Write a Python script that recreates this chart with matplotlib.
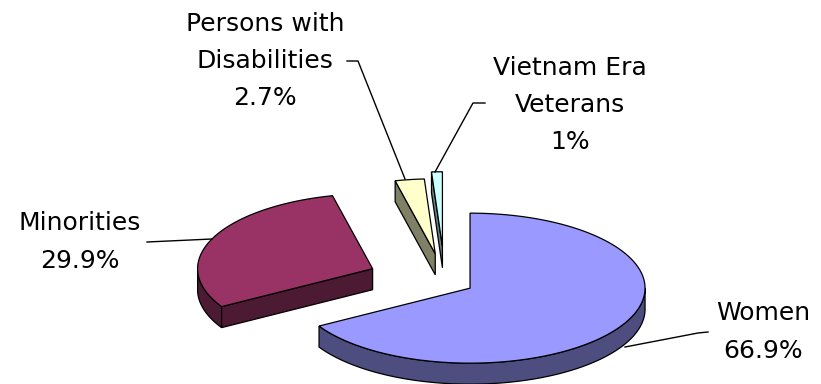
import numpy as np
import matplotlib
matplotlib.use("Agg")
import matplotlib.pyplot as plt

# data
categories = ["Women", "Minorities", "Persons with\nDisabilities", "Vietnam Era\nVeterans"]
values = [66.9, 29.9, 2.7, 1.0]
pct_labels = ["66.9%", "29.9%", "2.7%", "1%"]

# styling
top_colors = ["#9999ff", "#993366", "#ffffcc", "#ccffff"]
side_colors = ["#4d4d80", "#4d1a33", "#808066", "#668080"]
explode = [0.165, 0.45, 0.38, 0.47]

# pie geometry (pixel units, y pointing down)
CX, CY = 445, 282
RX, RY = 175, 75
DEPTH = 21
EDGE = dict(edgecolor="black", linewidth=0.9, joinstyle="miter")

# label anchors and leader lines
label_xy = [(763, 332), (80, 242), (265, 61), (570, 105)]
leaders = [
    [(625, 347), (698, 333), (708, 332)],
    [(147, 242), (212, 239)],
    [(347, 61), (358, 61), (405, 179)],
    [(435, 172), (473, 103), (485, 103)],
]

fig = plt.figure(figsize=(8.21, 3.84), dpi=100)
ax = fig.add_axes([0, 0, 1, 1])
ax.set_xlim(0, 821)
ax.set_ylim(384, 0)
ax.axis("off")

fracs = np.array(values) / sum(values)
ends = 90 - np.cumsum(fracs) * 360
starts = np.concatenate([[90], ends[:-1]])


def arc(cx, cy, a0, a1, dz=0, n=120):
    t = np.radians(np.linspace(a0, a1, n))
    return cx + RX * np.cos(t), cy - RY * np.sin(t) + dz


def front_part(lo, hi):
    # portion of the rim facing the viewer (lower half of the ellipse)
    for k in (-360, 0, 360):
        a, b = max(lo, -180 + k), min(hi, k)
        if a < b:
            return a, b
    return None


# back slices first
for i in [3, 2, 1, 0]:
    lo, hi = ends[i], starts[i]
    mid = np.radians((lo + hi) / 2)
    cx = CX + explode[i] * RX * np.cos(mid)
    cy = CY - explode[i] * RY * np.sin(mid)

    # outer rim wall
    fp = front_part(lo, hi)
    if fp:
        xt, yt = arc(cx, cy, fp[0], fp[1])
        xb, yb = arc(cx, cy, fp[0], fp[1], DEPTH)
        ax.fill(np.r_[xt, xb[::-1]], np.r_[yt, yb[::-1]],
                facecolor=side_colors[i], **EDGE)

    # radial walls that face the viewer
    for ang, visible in [(lo, np.cos(np.radians(lo)) > 1e-9),
                         (hi, np.cos(np.radians(hi)) < -1e-9)]:
        if not visible:
            continue
        ex, ey = arc(cx, cy, ang, ang, n=1)
        ax.fill([cx, ex[0], ex[0], cx], [cy, ey[0], ey[0] + DEPTH, cy + DEPTH],
                facecolor=side_colors[i], **EDGE)

    # top face
    xt, yt = arc(cx, cy, lo, hi)
    ax.fill(np.r_[cx, xt], np.r_[cy, yt], facecolor=top_colors[i], **EDGE)

for i, (x, y) in enumerate(label_xy):
    ax.text(x, y, f"{categories[i]}\n{pct_labels[i]}", ha="center", va="center",
            fontsize=18, family="DejaVu Sans", linespacing=1.7, color="black")
    pts = np.array(leaders[i])
    ax.plot(pts[:, 0], pts[:, 1], color="black", linewidth=1.0)

fig.savefig("out.png", dpi=100, facecolor="white")
